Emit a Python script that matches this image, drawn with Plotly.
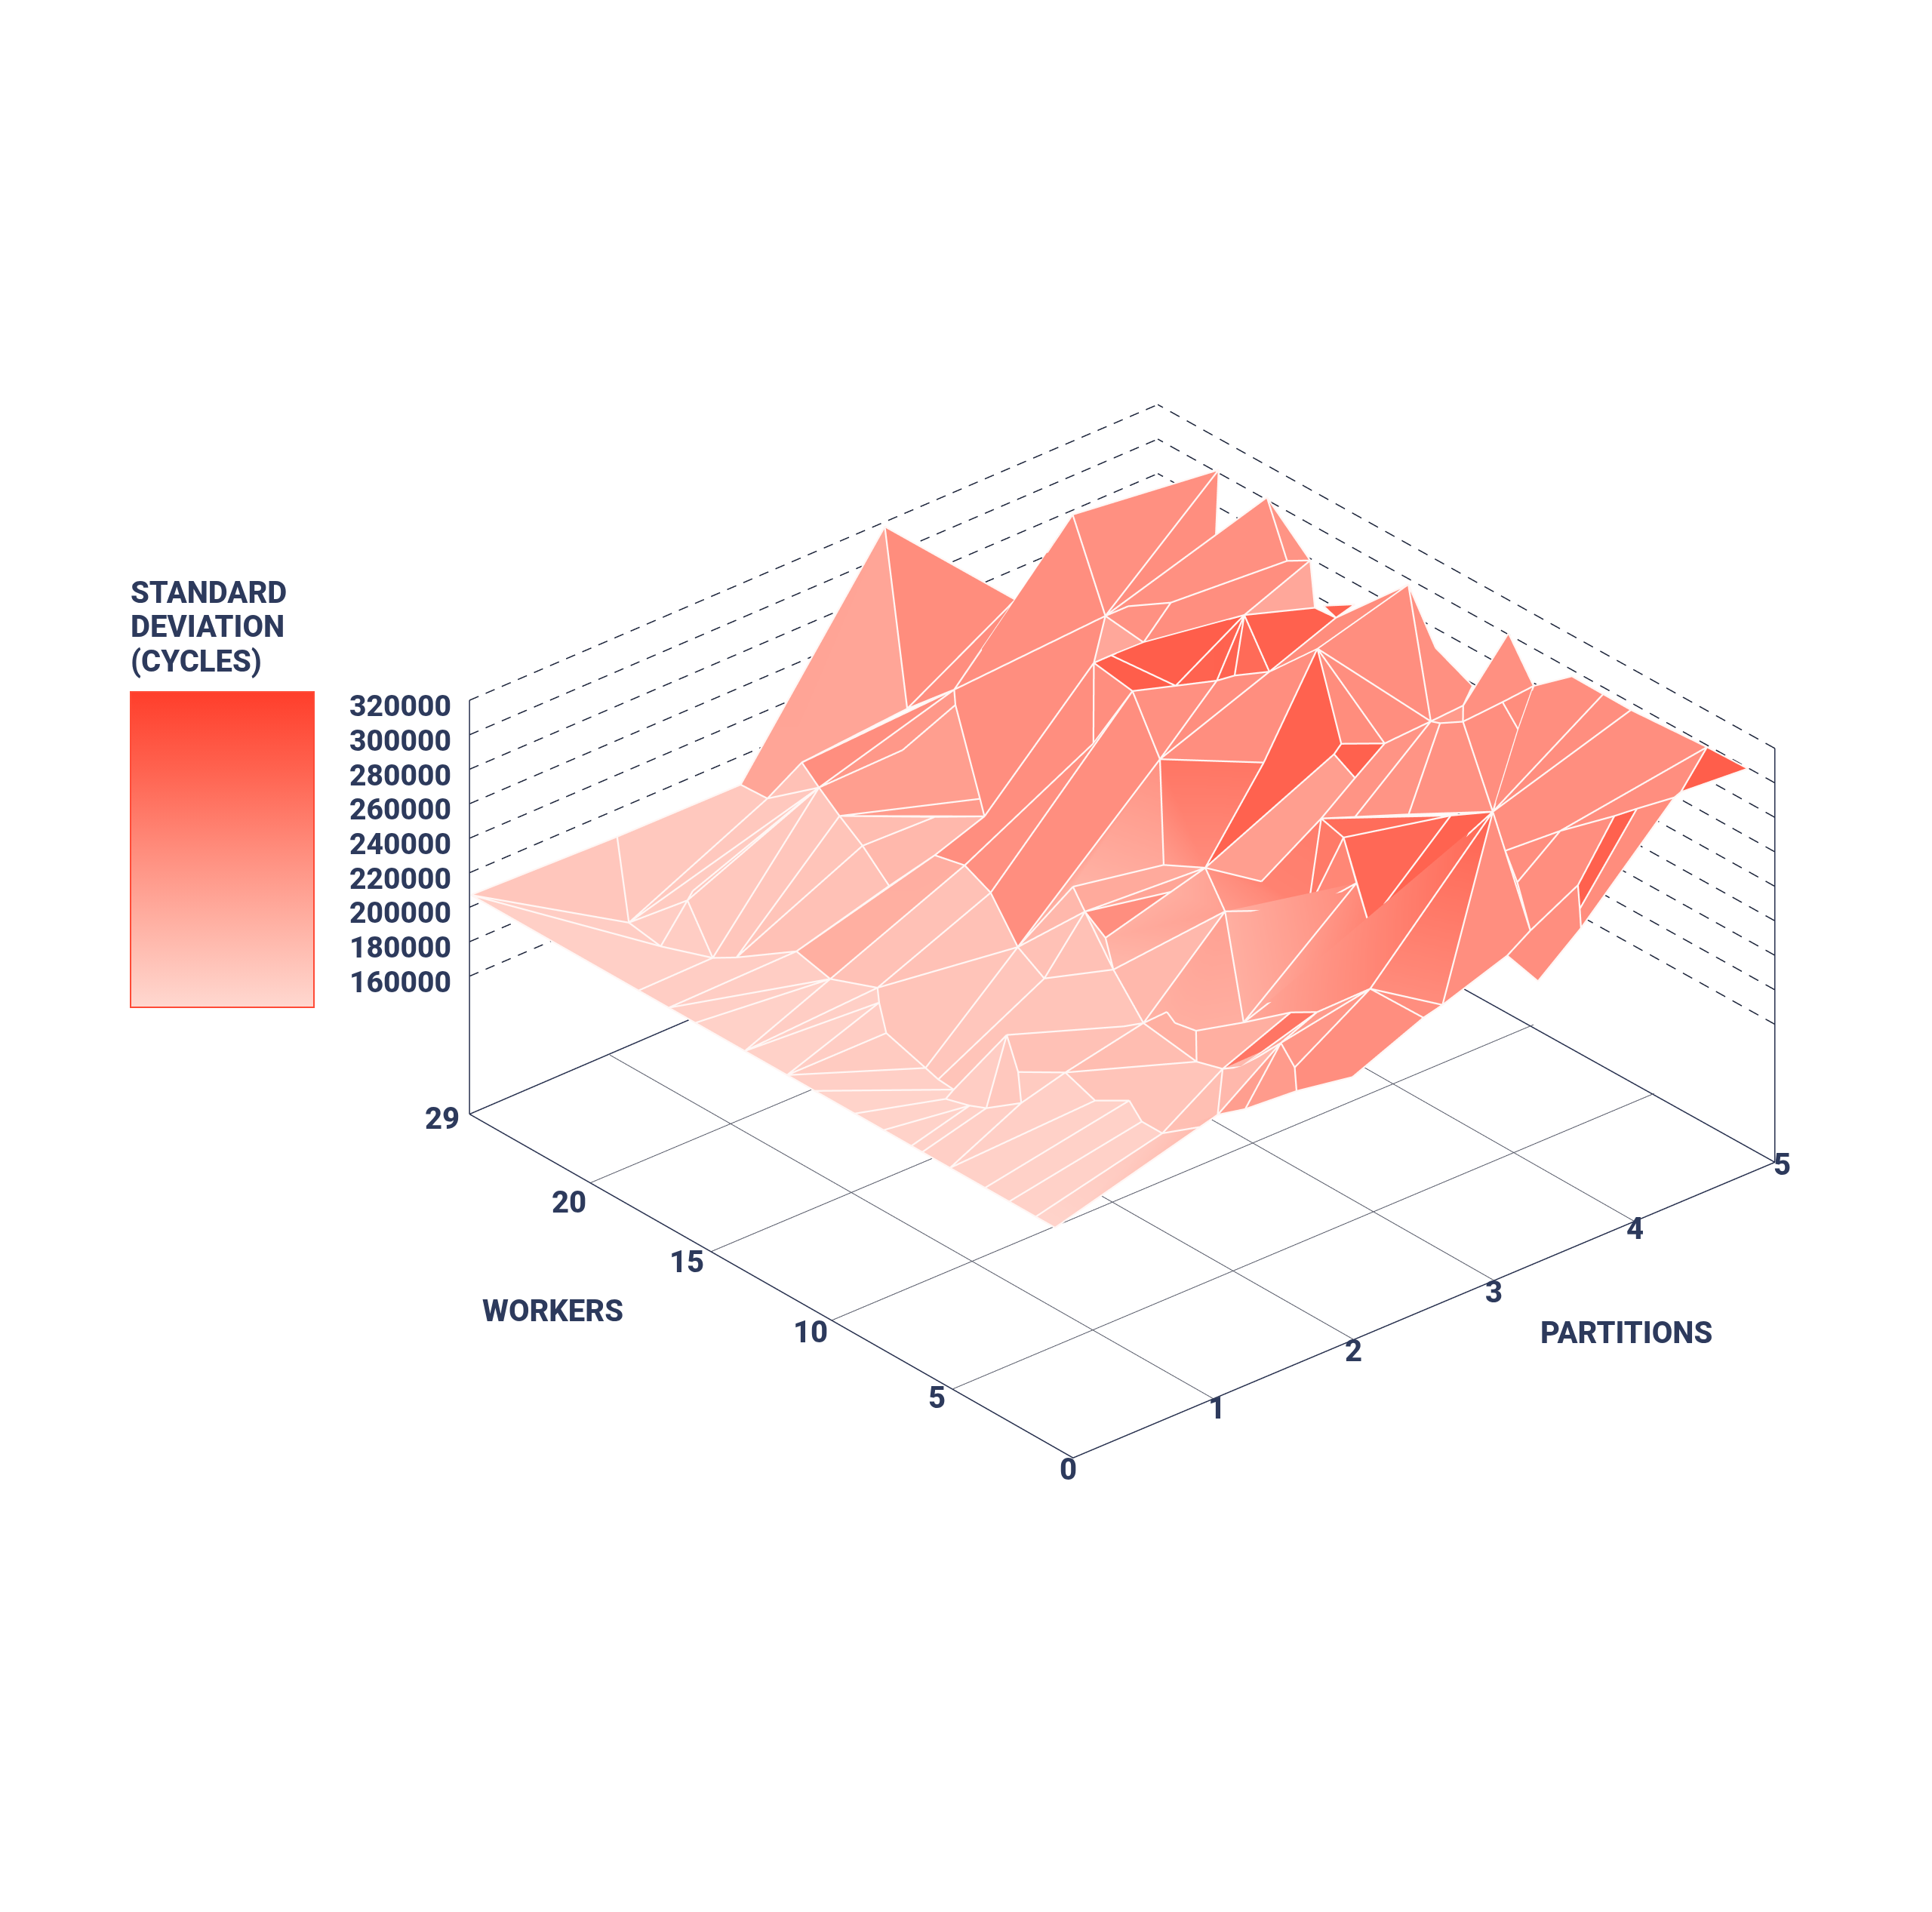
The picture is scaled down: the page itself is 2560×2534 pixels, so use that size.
import numpy as np
import plotly.graph_objects as go

# ---------- axis data ----------
partition_ticks = [0, 1, 2, 3, 4, 5]
worker_tick_pos = [1, 2, 3, 4, 5]
worker_tick_labels = ["5", "10", "15", "20", "29"]
stddev_ticks = [160000, 180000, 200000, 220000, 240000, 260000, 280000, 300000, 320000]
stddev_floor = 80000
stddev_top = 320000
back_corner = (4.945, 5.048)

# ---------- surface vertices (partition, worker position on the axis, std deviation) ----------
vertex_id = [
    1,2,3,4,5,6,7,8,9,10,11,12,13,14,15,16,17,18,19,20,21,23,24,25,26,27,28,29,30,31,32,33,34,35,36,37,38,
    39,40,41,42,43,44,45,46,47,48,49,52,53,54,55,56,57,58,59,60,61,62,63,64,65,66,67,68,69,71,72,73,74,75,76,77,78,79,
    80,81,82,83,84,85,86,87,88,89,90,91,97,98,99,100,101,102,103,104,105,106,107,108,109,110,111,112,113,114,115,116,
    117,118,119,120,121,123,124,125,126,127,128,129,130,131,132,133,134,135,136,137,138,139,140,141,142,143,145,146,147,148,
    149,150,151,152,160,161,162,163,
    200,201,202,203,204,205,206,207,208,209,210,211,212,213,214,215]
vertex_partition = [
    1.00,1.88,1.89,2.29,2.18,2.06,1.94,1.76,.43,.39,.83,.92,.52,.62,.91,.85,.98,.88,.69,.60,.57,.56,.46,.51,.56,1.17,.95,.74,1.14,1.06,1.20,1.10,1.10,1.30,1.46,1.71,1.73,
    2.33,2.20,1.99,2.14,1.67,1.95,2.04,1.99,2.00,1.94,1.96,2.26,2.55,2.31,2.95,3.27,3.85,4.77,4.69,4.77,4.75,4.76,4.75,3.61,3.73,3.93,3.71,4.23,4.72,4.90,4.51,4.63,4.19,4.37,4.09,4.13,3.66,3.14,
    2.92,2.77,3.07,3.56,3.27,3.27,3.35,3.44,3.80,3.97,3.69,3.00,2.82,3.17,2.65,3.57,3.43,3.27,3.72,3.87,3.99,4.10,4.61,4.67,4.68,4.96,4.95,4.99,4.99,4.99,4.99,4.98,
    4.70,4.68,4.49,4.39,4.15,3.87,3.87,3.80,4.01,3.98,3.98,3.51,3.48,4.84,4.84,4.69,4.79,3.08,3.26,2.23,3.09,1.86,2.02,1.99,2.01,1.80,1.99,1.90,2.54,2.65,
    2.55,2.22,2.25,2.28,2.49,4.76,4.62,1.88,
    0,0,0,0,0,0,0,0,0,0,0,0,0,0,0,0]
vertex_worker_pos = [
    4.94,4.94,4.73,4.91,4.64,4.33,4.00,3.57,4.18,3.87,4.16,4.22,3.59,3.51,3.35,3.00,2.76,2.63,2.35,1.92,1.78,1.64,1.59,1.45,1.37,1.91,1.56,1.29,1.39,1.05,.93,.71,.54,.46,.50,1.57,2.25,
    2.71,2.46,1.98,2.22,2.40,2.95,3.27,3.46,3.47,2.99,3.05,4.04,3.95,4.06,4.99,4.28,4.48,4.34,4.27,3.94,3.75,3.57,3.52,3.93,3.88,3.76,3.73,3.50,3.31,2.92,3.22,2.42,2.65,2.50,2.42,2.64,2.20,2.09,
    2.30,2.47,2.85,2.56,3.31,3.63,3.58,3.15,3.08,2.99,3.10,3.32,2.02,1.74,2.27,1.91,1.64,1.35,1.99,1.72,1.51,1.29,2.32,2.20,2.21,2.16,1.94,1.67,1.41,1.18,.55,.20,
    .43,.46,.55,.62,.79,.92,.82,.63,.48,.43,.42,.23,.45,2.07,1.94,2.45,2.26,1.12,.73,1.18,.69,1.58,1.33,1.47,1.56,1.07,.92,.97,1.15,1.06,
    .65,.73,.78,.93,3.87,3.20,3.30,.76,
    4.99,3.60,3.35,3.13,2.72,2.37,2.14,1.81,1.57,1.34,1.25,1.02,.73,.53,.31,.15]
vertex_stddev = [
    209000,209000,209000,209000,209000,209000,209000,209000,209000,209000,209000,209000,209000,209000,209000,209000,209000,209000,209000,209000,209000,209000,209000,209000,209000,209000,209000,209000,209000,209000,209000,209000,209000,209000,209000,209000,209000,
    223300,223300,216000,219700,223300,223300,223300,223300,244800,266300,273400,251900,280600,273400,320000,294900,316400,316400,284200,316400,287800,294900,269800,287800,291300,291300,277000,284200,273400,302100,266300,251900,244800,244800,237600,241200,237600,223300,
    230400,230400,266300,259100,280600,284200,287800,284200,280600,280600,280600,259100,219700,219700,226900,241200,230400,223300,244800,251900,255500,262700,255500,259100,267700,302100,280600,295600,295600,295600,299200,301000,
    287800,284200,280600,277000,269800,262700,248400,230400,255500,244800,234000,226900,234000,269800,259100,291300,273400,201800,201800,209000,201800,205400,205400,205400,207500,205400,201800,201800,205400,205400,
    187500,187500,198200,205400,277000,284200,284200,187500,
    207500,207500,207500,207500,207500,207500,207500,207500,207500,207500,207500,207500,207500,207500,207500,207500]

# ---------- surface facets: corner vertices and their colour value ----------
facet_vertices = [
    [200,1,9],[1,2,3,9],[55,54,4,3,2],[3,4,5],[3,5,9],[9,5,11],[200,9,10],[9,11,10],[200,10,13,201],[10,11,13],
    [5,13,11,12],[13,5,6,14],[14,6,7],[14,7,8,15],[15,8,46],[15,46,45,16],[7,47,48,46,8],[6,47,7],[6,48,49],[49,6,5,52,160],
    [4,53,5],[5,53,160,52],[55,56,54],[54,56,53],[57,64,53,56],[57,58,64],[58,59,64],[59,60,64],[60,61,66,65,64],[60,62,61],
    [68,67,66,61,62],[62,63,68],[64,65,66,67],[64,67,86,85],[68,87,86,67],[85,86,87,84],[68,90,87],[68,88,90],[68,89,88],[68,63,69,89],
    [162,161,69],[71,72,89,69],[71,73,72],[73,71,133,134,109],[110,111,131,108,109],[73,109,108,107],[111,131,132],[108,131,132,106],[107,108,106,104],[73,107,104,103],
    [103,78,76,75,73],[74,75,76,77],[77,76,78,79,80],[72,73,75],[72,75,74],[80,83,72,74,77],[89,72,83,82],[84,87,90,82],[90,88,89,82],[82,83,80,81],
    [82,81,39,43],[84,82,43,44],[91,84,44,45],[85,84,91],[85,91,45,46,48],[49,160,53,64,85,48],[98,97,80,79,78],[100,105,102],[78,105,100],[78,100,98],
    [100,101,98],[105,106,102],[97,98,101,137],[137,101,102],[106,135,148,147,137,102],[135,106,136],[135,136,138],[135,138,149,150,151],[147,148,145,146],[148,135,152],
    [152,135,151],[148,152,145],[152,151,150,163],[36,152,163],[146,145,152,36],[143,146,34,33,32,31,30],[34,146,36,35],[34,214,215,36,35],[214,34,33,213],[213,33,32,212],
    [212,32,31,211],[30,29,211,31] ,[210,211,29,26],[209,210,26,25],[208,209,25],[207,208,25,24],[206,207,24,23],[205,206,23,21,20],[205,19,20],[205,18,19],
    [204,205,18],[204,18,17],[203,204,16],[204,17,16],[202,203,16],[201,202,15,14,13],[202,16,15],[16,45,44,17],[17,44,43],[43,20,19,18,17],
    [43,38,21,20],[43,40,38],[43,39,40],[39,81,80,40],[40,99,42],[40,80,99],[97,41,42,99,80],[42,41,40],[40,41,38],[38,41,139,37,27,23,21],
    [23,27,26,25,24],[27,28,29,26],[139,30,28,27,37],[28,30,29],[30,139,143],[139,142,141,140,143],[140,137,147,146,143],[41,97,139],[97,137,140,141,142,139],
    [106,132,111,112,113],[106,113,114],[106,114,115,121,123],[115,116,117],[115,117,118,119,120,121],[123,121,124],[106,123,124,125],[106,125,130,136],[121,120,126,125,124],
    [120,119,127,126],[119,118,128,127],[125,126,127,128,129,130]]
facet_values = [
    180000,178000,215000,185000,178000,175000,172000,172000,170000,172000,
    178000,180000,182000,185000,188000,205000,195000,190000,225000,222000,
    238000,228000,240000,238000,238000,236000,238000,240000,236000,232000,
    238000,212000,235000,212000,285000,285000,280000,280000,272000,282000,
    280000,240000,238000,236000,236000,225000,240000,238000,235000,232000,
    232000,282000,222000,238000,240000,280000,238000,236000,238000,[262000,262000,240000,222000],
    [235000,212000,200000,205000],238000,236000,238000,238000,238000,[250000,225000,235000,250000,255000],275000,270000,258000,
    245000,280000,[205000,230000,240000,205000],[205000,240000,250000],[275000,245000,232000,225000,212000,262000],[240000,280000,240000],238000,238000,262000,225000,
    230000,220000,225000,222000,195000,182000,188000,[180000,165000,165000,195000,190000],168000,168000,
    168000,170000,170000,168000,167000,166000,166000,170000,175000,172000,
    168000,170000,168000,172000,170000,172000,172000,185000,185000,182000,
    180000,185000,195000,210000,238000,215000,[220000,195000,205000,205000,215000],190000,185000,182000,
    172000,178000,185000,175000,190000,205000,205000,195000,[220000,205000,205000,205000,205000,200000],
    238000,238000,238000,285000,238000,238000,236000,238000,238000,
    282000,240000,238000]

colorscale_stops = [[0.0, "#ffd8d0"], [0.25, "#ffb3a6"], [0.5, "#ff8c7c"], [0.75, "#ff6350"], [1.0, "#ff3e2b"]]

# ---------- styling ----------
INK = "#2d3a5c"
FONT = "Roboto"
SIZE = 40
VIEW = np.array([-0.5685, -0.661, 0.49])
EYE_R = 1.6
CENTER = np.array([-0.1293, 0.0905, -0.0281])
EYE = CENTER + VIEW * EYE_R
PAD_XY = 0.05
PAD_Z = 2000
BOX_SCALE = 0.968

# ---------- expand the facets ----------
pos = {v: (a, b, c) for v, a, b, c in zip(vertex_id, vertex_partition, vertex_worker_pos, vertex_stddev)}
mx, my, mz, mi, ti, tj, tk = [], [], [], [], [], [], []
edges = set()
for corners, value in zip(facet_vertices, facet_values):
    base = len(mx)
    vals = value if isinstance(value, list) else [value] * len(corners)
    for c, val in zip(corners, vals):
        a, b, d = pos[c]
        mx.append(a); my.append(b); mz.append(d); mi.append(val)
    for n in range(1, len(corners) - 1):
        ti.append(base); tj.append(base + n); tk.append(base + n + 1)
    for n, c in enumerate(corners):
        e = corners[(n + 1) % len(corners)]
        edges.add((min(c, e), max(c, e)))

lift = 0.008
dp, dq, dz = VIEW[0] * lift * 5, VIEW[1] * lift * 5, VIEW[2] * lift / 0.513 * (stddev_top - stddev_floor)
ex, ey, ez = [], [], []
for c, e in sorted(edges):
    for v in (c, e):
        a, b, d = pos[v]
        ex.append(a + dp); ey.append(b + dq); ez.append(d + dz)
    ex.append(None); ey.append(None); ez.append(None)

fig = go.Figure()

def line3d(x, y, z, color, width):
    fig.add_trace(go.Scatter3d(x=x, y=y, z=z, mode="lines", hoverinfo="skip", showlegend=False,
                               line=dict(color=color, width=width)))

# floor grid
gx, gy, gz = [], [], []
for t in partition_ticks[1:-1]:
    gx += [t, t, None]; gy += [0, 5, None]; gz += [stddev_floor, stddev_floor, None]
for t in worker_tick_pos[:-1]:
    gx += [0, 5, None]; gy += [t, t, None]; gz += [stddev_floor, stddev_floor, None]
line3d(gx, gy, gz, "#565a68", 2)

# frame
line3d([5, 0, 0, back_corner[0], 5], [0, 0, 5, back_corner[1], 0], [stddev_floor] * 5, "#262f4d", 3)
line3d([0, 0], [5, 5], [stddev_floor, stddev_top], "#262f4d", 3)
line3d([5, 5], [0, 0], [stddev_floor, stddev_top], "#262f4d", 3)

# dashed wall grid, each tick level broken into dashes running to the back corner
wx, wy, wz = [], [], []
for t in stddev_ticks:
    for s in np.arange(0, 1, 0.117 / 5):
        e = min(s + 0.065 / 5, 1.0)
        wx += [float(s * back_corner[0]), float(e * back_corner[0]), None]
        wy += [float(5 + s * (back_corner[1] - 5)), float(5 + e * (back_corner[1] - 5)), None]
        wz += [t, t, None]
    for s in np.arange(0, 1, 0.134 / 5):
        e = min(s + 0.075 / 5, 1.0)
        wx += [float(5 + s * (back_corner[0] - 5)), float(5 + e * (back_corner[0] - 5)), None]
        wy += [float(s * back_corner[1]), float(e * back_corner[1]), None]
        wz += [t, t, None]
line3d(wx, wy, wz, "#1a2238", 3)

fig.add_trace(go.Mesh3d(
    x=mx, y=my, z=mz, i=ti, j=tj, k=tk, intensity=mi, intensitymode="vertex",
    colorscale=colorscale_stops, cmin=160000, cmax=320000, flatshading=True, hoverinfo="skip",
    lighting=dict(ambient=1, diffuse=0, specular=0, roughness=1, fresnel=0),
    colorbar=dict(x=101 / 1568, xanchor="left", y=1 - 812.5 / 1552, yanchor="bottom",
                  len=(817 - 561) / 1552, lenmode="fraction", thickness=243, thicknessmode="pixels",
                  outlinecolor="#ff4a36", outlinewidth=2, ticks="", showticklabels=False, xpad=0, ypad=0),
))
line3d(ex, ey, ez, "#fff6f4", 4.5)

# ---------- texts ----------
tick_font = dict(family=FONT, size=SIZE, color=INK, weight=800)
notes = []
x_shift = [(-6, -15), (5, -13), (0, -15), (0, -15), (1, -10), (10, -3)]
for t, (sx, sy) in zip(partition_ticks, x_shift):
    notes.append(dict(x=t, y=0, z=stddev_floor, text=str(t), showarrow=False, font=tick_font, xshift=sx, yshift=sy))
y_shift = [(-20, -11), (-28, -16), (-32, -14), (-28, -26), (-36, -6)]
for t, lab, (sx, sy) in zip(worker_tick_pos, worker_tick_labels, y_shift):
    notes.append(dict(x=0, y=t, z=stddev_floor, text=lab, showarrow=False, font=tick_font, xshift=sx, yshift=sy))
for t in stddev_ticks:
    notes.append(dict(x=0, y=5, z=t, text=str(t), showarrow=False, xanchor="right", xshift=-22, yshift=-8,
                      font=dict(family=FONT, size=39, color=INK, weight=800)))

paper = []
for text, px, py, anchor in [("WORKERS", 444, 1059, "center"), ("PARTITIONS", 1315, 1077, "center"),
                             ("STANDARD", 100, 476, "left"), ("DEVIATION", 100, 504, "left"), ("(CYCLES)", 100, 532, "left")]:
    paper.append(dict(xref="paper", yref="paper", x=px / 1568, y=1 - py / 1552, text=text, showarrow=False,
                      xanchor=anchor, yanchor="middle", font=tick_font))

hidden = dict(showgrid=False, zeroline=False, showbackground=False, showspikes=False, showline=False,
              showticklabels=False, ticks="", title="")
span_xy = 5 + 2 * PAD_XY
span_z = stddev_top - stddev_floor + 2 * PAD_Z
fig.update_layout(
    width=2560, height=2534, margin=dict(l=0, r=0, t=0, b=0), paper_bgcolor="white", showlegend=False,
    annotations=paper,
    scene=dict(
        domain=dict(x=[0, 1], y=[0, 1]),
        xaxis=dict(range=[-PAD_XY, 5 + PAD_XY], tickvals=partition_ticks, **hidden),
        yaxis=dict(range=[-PAD_XY, 5 + PAD_XY], tickvals=worker_tick_pos, ticktext=worker_tick_labels, **hidden),
        zaxis=dict(range=[stddev_floor - PAD_Z, stddev_top + PAD_Z], tickvals=stddev_ticks, **hidden),
        aspectmode="manual",
        aspectratio=dict(x=BOX_SCALE * span_xy / 5, y=BOX_SCALE * span_xy / 5,
                         z=BOX_SCALE * 0.513 * span_z / (stddev_top - stddev_floor)),
        camera=dict(projection=dict(type="orthographic"), up=dict(x=0, y=0, z=1),
                    eye=dict(x=float(EYE[0]), y=float(EYE[1]), z=float(EYE[2])),
                    center=dict(x=float(CENTER[0]), y=float(CENTER[1]), z=float(CENTER[2]))),
        annotations=notes,
    ),
)
fig.write_html("out.html")
